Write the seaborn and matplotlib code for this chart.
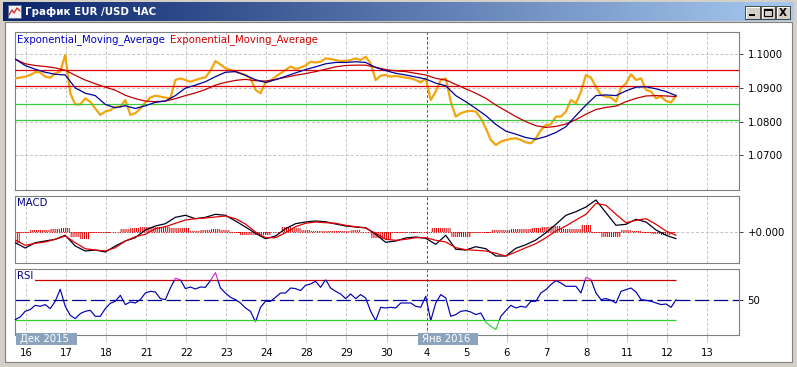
import numpy as np
import matplotlib
matplotlib.use("Agg")
import matplotlib.pyplot as plt
import seaborn as sns
from matplotlib.patches import Rectangle
from matplotlib.colors import LinearSegmentedColormap

# ---------------- data ----------------
title_text = "График EUR /USD ЧАС"
ema_label = "Exponential_Moving_Average"
day_labels = ["16", "17", "18", "21", "22", "23", "24", "28", "29", "30",
              "4", "5", "6", "7", "8", "11", "12", "13"]
month_labels = ["Дек 2015", "Янв 2016"]
separator_day = "4"

# EUR/USD hourly chart, sampled every 3 hours
price_close = [
    1.0928, 1.0930, 1.0933, 1.0938, 1.0946, 1.0946, 1.0933, 1.0930, 1.0943, 1.0948,
    1.0997, 1.0884, 1.0851, 1.0851, 1.0869, 1.0859, 1.0839, 1.0820, 1.0830, 1.0834,
    1.0844, 1.0844, 1.0864, 1.0820, 1.0825, 1.0839, 1.0857, 1.0871, 1.0877, 1.0874,
    1.0871, 1.0869, 1.0923, 1.0928, 1.0923, 1.0918, 1.0923, 1.0928, 1.0931, 1.0950,
    1.0979, 1.0969, 1.0958, 1.0953, 1.0948, 1.0943, 1.0938, 1.0928, 1.0894, 1.0884,
    1.0916, 1.0920, 1.0933, 1.0943, 1.0953, 1.0963, 1.0956, 1.0960, 1.0966, 1.0977,
    1.0975, 1.0977, 1.0987, 1.0985, 1.0982, 1.0979, 1.0980, 1.0982, 1.0987, 1.0982,
    1.0992, 1.0972, 1.0923, 1.0936, 1.0938, 1.0933, 1.0935, 1.0933, 1.0930, 1.0928,
    1.0923, 1.0916, 1.0928, 1.0864, 1.0889, 1.0923, 1.0928, 1.0859, 1.0815, 1.0825,
    1.0830, 1.0832, 1.0830, 1.0810, 1.0780, 1.0746, 1.0731, 1.0741, 1.0746, 1.0749,
    1.0751, 1.0746, 1.0739, 1.0736, 1.0751, 1.0775, 1.0790, 1.0792, 1.0815, 1.0815,
    1.0830, 1.0864, 1.0854, 1.0889, 1.0938, 1.0930, 1.0903, 1.0879, 1.0874, 1.0871,
    1.0859, 1.0899, 1.0913, 1.0940, 1.0923, 1.0928, 1.0894, 1.0889, 1.0869, 1.0874,
    1.0861, 1.0857, 1.0877,
]
# moving averages, sampled every 6 hours
ema_fast = [
    1.0985, 1.0966, 1.0955, 1.0946, 1.0940, 1.0938, 1.0900, 1.0884, 1.0877, 1.0851,
    1.0841, 1.0847, 1.0839, 1.0847, 1.0857, 1.0861, 1.0877, 1.0899, 1.0908, 1.0918,
    1.0933, 1.0946, 1.0948, 1.0937, 1.0924, 1.0916, 1.0924, 1.0934, 1.0944, 1.0954,
    1.0962, 1.0971, 1.0975, 1.0975, 1.0977, 1.0975, 1.0960, 1.0951, 1.0943, 1.0938,
    1.0932, 1.0926, 1.0914, 1.0906, 1.0877, 1.0859, 1.0839, 1.0818, 1.0792, 1.0772,
    1.0763, 1.0753, 1.0748, 1.0756, 1.0768, 1.0785, 1.0818, 1.0849, 1.0877, 1.0879,
    1.0877, 1.0891, 1.0902, 1.0903, 1.0897, 1.0889, 1.0877,
]
ema_slow = [
    1.0985, 1.0971, 1.0966, 1.0963, 1.0959, 1.0952, 1.0937, 1.0923, 1.0912, 1.0902,
    1.0893, 1.0878, 1.0868, 1.0861, 1.0859, 1.0861, 1.0868, 1.0877, 1.0885, 1.0895,
    1.0908, 1.0916, 1.0922, 1.0925, 1.0921, 1.0920, 1.0925, 1.0931, 1.0937, 1.0942,
    1.0948, 1.0955, 1.0962, 1.0966, 1.0967, 1.0967, 1.0961, 1.0954, 1.0950, 1.0948,
    1.0943, 1.0938, 1.0928, 1.0923, 1.0910, 1.0897, 1.0884, 1.0869, 1.0849, 1.0832,
    1.0815, 1.0800, 1.0788, 1.0783, 1.0786, 1.0793, 1.0806, 1.0822, 1.0836, 1.0842,
    1.0846, 1.0859, 1.0869, 1.0876, 1.0877, 1.0876, 1.0874,
]
resistance_levels = [1.0952, 1.0904]
support_levels = [1.0852, 1.0804]
price_ticks = [1.1000, 1.0900, 1.0800, 1.0700]

# MACD (in pips), sampled every 6 hours
macd_main = [
    -11.2, -16.5, -11.2, -9.5, -7.8, -3.8, -14.5, -19.5, -18.5, -20.5,
    -14.5, -9.5, -6.2, 1.5, 5.5, 7.8, 14.2, 16.2, 12.8, 14.2,
    17.2, 16.2, 10.5, 4.5, -1.8, -7.2, -4.5, 2.8, 7.8, 9.5,
    10.5, 9.8, 7.5, 5.5, 4.5, 3.8, -2.8, -10.8, -9.5, -6.5,
    -5.5, -6.8, -12.8, -3.8, -17.8, -18.5, -15.2, -17.2, -24.5, -24.5,
    -16.8, -13.2, -8.5, -1.2, 7.2, 16.2, 19.8, 24.5, 31.5, 18.8,
    6.2, 7.2, 12.2, 9.5, 1.5, -3.8, -7.2,
]
macd_signal = [
    -8.5, -13.8, -11.8, -10.5, -7.8, -4.5, -11.2, -17.2, -18.5, -19.5,
    -16.2, -9.5, -5.2, -2.8, 2.8, 4.8, 8.2, 11.5, 12.8, 13.5,
    14.5, 15.5, 12.8, 7.5, -0.5, -6.2, -6.2, -1.2, 4.8, 8.2,
    9.5, 8.8, 8.2, 6.2, 4.8, 3.5, -1.8, -7.8, -8.8, -7.8,
    -6.2, -6.2, -8.8, -10.5, -16.2, -18.2, -18.8, -19.5, -21.8, -24.5,
    -20.5, -16.2, -12.2, -6.2, 0.5, 5.5, 11.5, 17.2, 28.2, 26.2,
    17.2, 8.8, 11.2, 12.8, 7.2, 0.5, -3.8,
]
macd_hist = [
    -11.2, -1.8, 1.2, 1.2, 2.2, 3.8, -5.2, -7.2, -1.2, -1.8,
    -0.5, 2.2, 3.5, 4.5, 4.2, 4.8, 3.8, 3.5, 0.2, 1.2,
    2.2, 1.5, -1.2, -3.2, -3.8, -3.8, -0.5, 4.2, 3.8, 1.5,
    0.8, 0.8, 0.2, 0.8, 1.2, -0.2, -6.2, -7.2, -1.8, -1.2,
    -1.2, -0.5, 3.5, 3.5, -5.2, -5.2, -1.8, -1.2, 1.2, 1.5,
    2.2, 2.8, 3.5, 4.8, 5.5, 2.8, 2.2, 6.2, -1.8, -5.2,
    -5.2, 1.5, 0.8, -1.2, -2.8, -3.2, -1.8,
]

# RSI, sampled every 3 hours
rsi_values = [
    30.7, 33.3, 39.0, 40.7, 45.0, 44.0, 45.7, 41.7, 49.0, 61.0,
    44.0, 35.0, 31.7, 36.7, 39.0, 40.0, 34.0, 34.0, 41.7, 47.0,
    49.0, 55.0, 45.7, 48.3, 47.3, 50.7, 57.3, 59.0, 58.3, 51.7,
    50.7, 62.3, 72.0, 70.5, 61.7, 63.3, 61.3, 63.3, 63.0, 69.7,
    77.7, 62.3, 57.3, 53.0, 50.7, 47.3, 42.3, 39.0, 28.3, 43.0,
    49.0, 49.0, 53.0, 57.3, 57.3, 62.3, 61.7, 59.7, 65.0, 66.3,
    69.0, 63.0, 70.7, 62.3, 59.0, 56.3, 51.7, 56.3,
    51.7, 55.7, 52.3, 39.0, 29.7, 43.0, 42.3, 43.0, 42.3, 47.3,
    47.3, 47.3, 44.0, 43.0, 54.0, 29.7, 47.3, 55.7, 52.3, 34.0,
    35.7, 39.0, 39.7, 38.3, 35.7, 37.3, 28.3, 24.0, 20.7, 34.0,
    39.7, 45.0, 42.3, 44.0, 43.0, 49.0, 49.0, 57.3, 60.7, 65.7,
    69.7, 67.3, 64.0, 64.0, 64.0, 57.3, 73.0, 70.7, 57.3, 50.7,
    51.7, 50.0, 47.3, 59.0, 60.7, 62.3, 58.3, 50.7, 50.0, 49.0,
    47.3, 45.7, 46.3, 43.0, 50.7,
]
rsi_overbought = 70
rsi_mid = 50
rsi_oversold = 30

# ---------------- time axis (hours from 16 Dec 00:00) ----------------
FIRST_HOUR = -6.5
t_fine = FIRST_HOUR + 3.0 * np.arange(len(price_close))
t_coarse = FIRST_HOUR + 6.0 * np.arange(len(ema_fast))
day_ticks = 24.0 * np.arange(len(day_labels))
sep_hour = day_ticks[day_labels.index(separator_day)]
XMIN, XMAX = -6.6, 427.2

# ---------------- style ----------------
sns.set_theme(style="white")
plt.rcParams["font.family"] = ["DejaVu Sans"]
plt.rcParams["hatch.linewidth"] = 0.75
plt.rcParams["hatch.color"] = "#E00000"
FS = 7.25
W, H = 797, 367
GRID = "#C4C4C4"
SPINE = "#808080"

fig = plt.figure(figsize=(W / 100, H / 100), dpi=100)
fig.patch.set_facecolor("#D4D0C8")


def fx(x):
    return x / W


def fy(y):
    return 1 - y / H


def rect_px(x0, y0, x1, y1, **kw):
    r = Rectangle((fx(x0), fy(y1)), (x1 - x0) / W, (y1 - y0) / H,
                  transform=fig.transFigure, **kw)
    fig.add_artist(r)
    return r


# window client area
rect_px(5, 22, 792, 362, facecolor="white", edgecolor="#808080", linewidth=0.8, zorder=0)

# title bar gradient
ax_t = fig.add_axes([fx(3), fy(21), (794 - 3) / W, 19 / H])
grad = np.linspace(0, 1, 256).reshape(1, -1)
ax_t.imshow(grad, aspect="auto", extent=[0, 1, 0, 1],
            cmap=LinearSegmentedColormap.from_list("tb", ["#0A246A", "#A6CAF0"]))
ax_t.set_axis_off()
fig.text(fx(25), fy(12), title_text, color="white", fontsize=7.4, fontweight="bold",
         va="center", ha="left")
# icon
rect_px(8, 5, 21, 18, facecolor="#F4F4F4", edgecolor="#5A6E9A", linewidth=0.7, zorder=5)
fig.add_artist(plt.Line2D([fx(9), fx(12), fx(14), fx(17), fx(20)],
                          [fy(15), fy(10), fy(13), fy(8), fy(11)],
                          transform=fig.transFigure, color="#D02020", lw=0.9, zorder=6))
# window buttons
for bx0, bx1 in [(745, 760), (761, 775), (776, 790)]:
    rect_px(bx0, 6, bx1, 19, facecolor="#D4D0C8", edgecolor="#404040", linewidth=0.7, zorder=5)
    fig.add_artist(plt.Line2D([fx(bx0 + 0.8), fx(bx0 + 0.8), fx(bx1 - 1)],
                              [fy(18.2), fy(6.8), fy(6.8)], transform=fig.transFigure,
                              color="white", lw=0.8, zorder=6))
rect_px(749, 14.5, 755, 16, facecolor="black", edgecolor="none", zorder=7)
rect_px(764, 9, 772, 16, facecolor="none", edgecolor="black", linewidth=0.8, zorder=7)
rect_px(764, 9, 772, 10.5, facecolor="black", edgecolor="none", zorder=7)
fig.text(fx(783), fy(12.6), "X", fontsize=7.5, fontweight="bold", color="black",
         ha="center", va="center", zorder=8)

# ---------------- panels ----------------
PL, PR = 15, 739
ax_main = fig.add_axes([fx(PL), fy(190), (PR - PL) / W, (190 - 32) / H])
ax_macd = fig.add_axes([fx(PL), fy(263), (PR - PL) / W, (263 - 196) / H])
ax_rsi = fig.add_axes([fx(PL), fy(335), (PR - PL) / W, (335 - 269) / H])

for ax in (ax_main, ax_macd, ax_rsi):
    ax.set_facecolor("white")
    ax.set_xlim(XMIN, XMAX)
    for s in ax.spines.values():
        s.set_color(SPINE)
        s.set_linewidth(0.8)
    ax.set_xticks(day_ticks)
    for xt in day_ticks:
        if xt == sep_hour:
            ax.axvline(xt, color="#555555", lw=0.7, dashes=(3, 2), zorder=1)
        else:
            ax.axvline(xt, color=GRID, lw=0.7, dashes=(3, 2), zorder=1)
    ax.yaxis.tick_right()
    ax.tick_params(axis="y", which="both", length=3, width=0.7, color="#404040",
                   pad=3.2, labelsize=FS, labelcolor="black", right=True, left=False)

# --- main price panel
ax_main.set_ylim(1.0598, 1.1065)
for p in price_ticks:
    ax_main.axhline(p, color=GRID, lw=0.7, dashes=(3, 2), zorder=1)
sns.lineplot(x=t_fine, y=price_close, ax=ax_main, color="#F2A50C", linewidth=1.6, zorder=3)
for lvl in resistance_levels:
    ax_main.axhline(lvl, color="#E00000", lw=0.9, zorder=4)
for lvl in support_levels:
    ax_main.axhline(lvl, color="#3CC83C", lw=0.9, zorder=4)
sns.lineplot(x=t_coarse, y=ema_slow, ax=ax_main, color="#C00000", linewidth=0.9, zorder=5)
sns.lineplot(x=t_coarse, y=ema_fast, ax=ax_main, color="#00009A", linewidth=0.9, zorder=6)
ax_main.set_yticks(price_ticks)
ax_main.set_yticklabels([f"{p:.4f}" for p in price_ticks])
ax_main.tick_params(axis="x", length=0, labelbottom=False)
ax_main.set_xlabel("")
ax_main.set_ylabel("")
fig.text(fx(17.5), fy(40), ema_label, color="#0000CC", fontsize=FS, va="center", ha="left")
fig.text(fx(170), fy(40), ema_label, color="#D00000", fontsize=FS, va="center", ha="left")

# --- MACD panel
ax_macd.set_ylim(-31.5, 35.5)
ax_macd.axhline(0, color=GRID, lw=0.7, dashes=(3, 2), zorder=1)
ax_macd.hlines(0, t_coarse[0], t_coarse[-1], color="#E00000", lw=0.7,
               linestyles=(0, (1, 1.5)), zorder=2)
ax_macd.fill_between(t_coarse, 0, macd_hist, step="mid", facecolor="none",
                     edgecolor="#E00000", hatch="|" * 8, linewidth=0, zorder=2)
sns.lineplot(x=t_coarse, y=macd_main, ax=ax_macd, color="#000020", linewidth=0.9, zorder=4)
sns.lineplot(x=t_coarse, y=macd_signal, ax=ax_macd, color="#E00000", linewidth=0.9, zorder=5)
ax_macd.set_yticks([0])
ax_macd.set_yticklabels(["+0.000"])
ax_macd.tick_params(axis="x", length=0, labelbottom=False)
ax_macd.set_xlabel("")
ax_macd.set_ylabel("")
fig.text(fx(17.5), fy(203.5), "MACD", color="#000080", fontsize=FS, va="center", ha="left")

# --- RSI panel
ax_rsi.set_ylim(15.3, 81.3)
ax_rsi.hlines(rsi_overbought, XMIN, t_fine[-1], color="#D00000", lw=0.9, zorder=2)
ax_rsi.hlines(rsi_oversold, XMIN, t_fine[-1], color="#33CC33", lw=0.9, zorder=2)
ax_rsi.axhline(rsi_mid, color="#000090", lw=0.9, dashes=(11.5, 3.6), zorder=2)
for col, lo, hi in [("#0000B0", rsi_oversold, rsi_overbought),
                    ("#CC33CC", rsi_overbought, 200),
                    ("#33CC33", -100, rsi_oversold)]:
    sns.lineplot(x=t_fine, y=rsi_values, ax=ax_rsi, color=col, linewidth=0.85, zorder=4)
    ln = ax_rsi.lines[-1]
    ln.set_clip_path(Rectangle((XMIN - 50, lo), XMAX - XMIN + 100, hi - lo,
                               transform=ax_rsi.transData))
ax_rsi.set_yticks([rsi_mid])
ax_rsi.set_yticklabels([str(rsi_mid)])
ax_rsi.set_xticklabels(day_labels)
ax_rsi.tick_params(axis="x", bottom=True, length=5, width=0.7, color=GRID, pad=4,
                   labelsize=FS, labelcolor="black")
ax_rsi.set_xlabel("")
ax_rsi.set_ylabel("")
fig.text(fx(17.5), fy(276), "RSI", color="#000080", fontsize=FS, va="center", ha="left",
         bbox=dict(boxstyle="square,pad=0.1", fc="white", ec="none"), zorder=10)

# month boxes
for (bx0, bx1), lab in zip([(15.5, 77), (418, 478)], month_labels):
    rect_px(bx0, 332.5, bx1, 344.5, facecolor="#8BA3BC", edgecolor="none", zorder=20)
    fig.text(fx(bx0 + 4.5), fy(338.6), lab, color="white", fontsize=FS, va="center",
             ha="left", zorder=21)

fig.savefig("out.png", dpi=100, facecolor=fig.get_facecolor())
